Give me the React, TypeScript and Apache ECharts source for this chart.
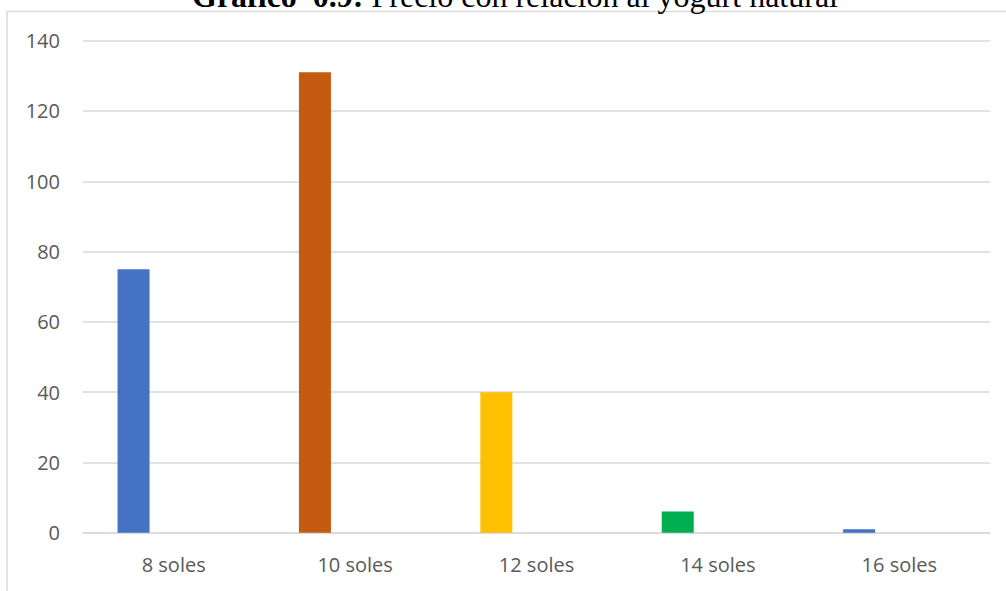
import React, { useEffect, useRef } from "react";
import * as echarts from "echarts";

const categories = ["8 soles", "10 soles", "12 soles", "14 soles", "16 soles"];
const values = [75, 131, 40, 6, 1];
const barColors = ["#4472C4", "#C55A11", "#FFC000", "#00B050", "#4472C4"];
const emptySeries = [null, null, null, null, null];
const titleBold = "Gráfico  0.9:";
const titleRest = " Precio con relación al yogurt natural";

export default function App() {
  const ref = useRef<HTMLDivElement>(null);
  useEffect(() => {
    if (!ref.current) return;
    const chart = echarts.init(ref.current, null, { renderer: "svg" });
    chart.setOption({
      animation: false,
      backgroundColor: "#ffffff",
      graphic: [
        {
          type: "rect",
          shape: { x: 7, y: 11.5, width: 1100, height: 700 },
          style: { fill: "none", stroke: "#D9D9D9", lineWidth: 1.5 },
          silent: true,
        },
        {
          type: "text",
          x: 192,
          y: -4,
          style: {
            text: "{b|" + titleBold + "}{r|" + titleRest + "}",
            verticalAlign: "middle",
            rich: {
              b: { fontFamily: "Liberation Serif", fontWeight: "bold", fontSize: 32, fill: "#000" },
              r: { fontFamily: "Liberation Serif", fontSize: 32, fill: "#000" },
            },
          },
        },
      ],
      grid: { left: 83, right: 16, top: 40.7, bottom: 58.3, containLabel: false },
      xAxis: {
        type: "category",
        data: categories,
        axisLine: { lineStyle: { color: "#D9D9D9", width: 1.5 } },
        axisTick: { show: false },
        axisLabel: { color: "#595959", fontFamily: "Open Sans", fontSize: 20, margin: 22 },
      },
      yAxis: {
        type: "value",
        min: 0,
        max: 140,
        interval: 20,
        axisLine: { show: false },
        axisTick: { show: false },
        axisLabel: { color: "#595959", fontFamily: "Open Sans", fontSize: 20, margin: 23 },
        splitLine: { lineStyle: { color: "#D9D9D9", width: 1.5 } },
      },
      series: [
        {
          type: "bar",
          barWidth: 32,
          barGap: "151%",
          data: values.map((v, i) => ({ value: v, itemStyle: { color: barColors[i] } })),
        },
        {
          type: "bar",
          barWidth: 32,
          data: emptySeries,
          itemStyle: { color: "transparent" },
        },
      ],
    });
    return () => chart.dispose();
  }, []);
  return (
    <div
      ref={ref}
      style={{ position: "fixed", left: 0, top: 0, width: 1006, height: 591 }}
    />
  );
}
